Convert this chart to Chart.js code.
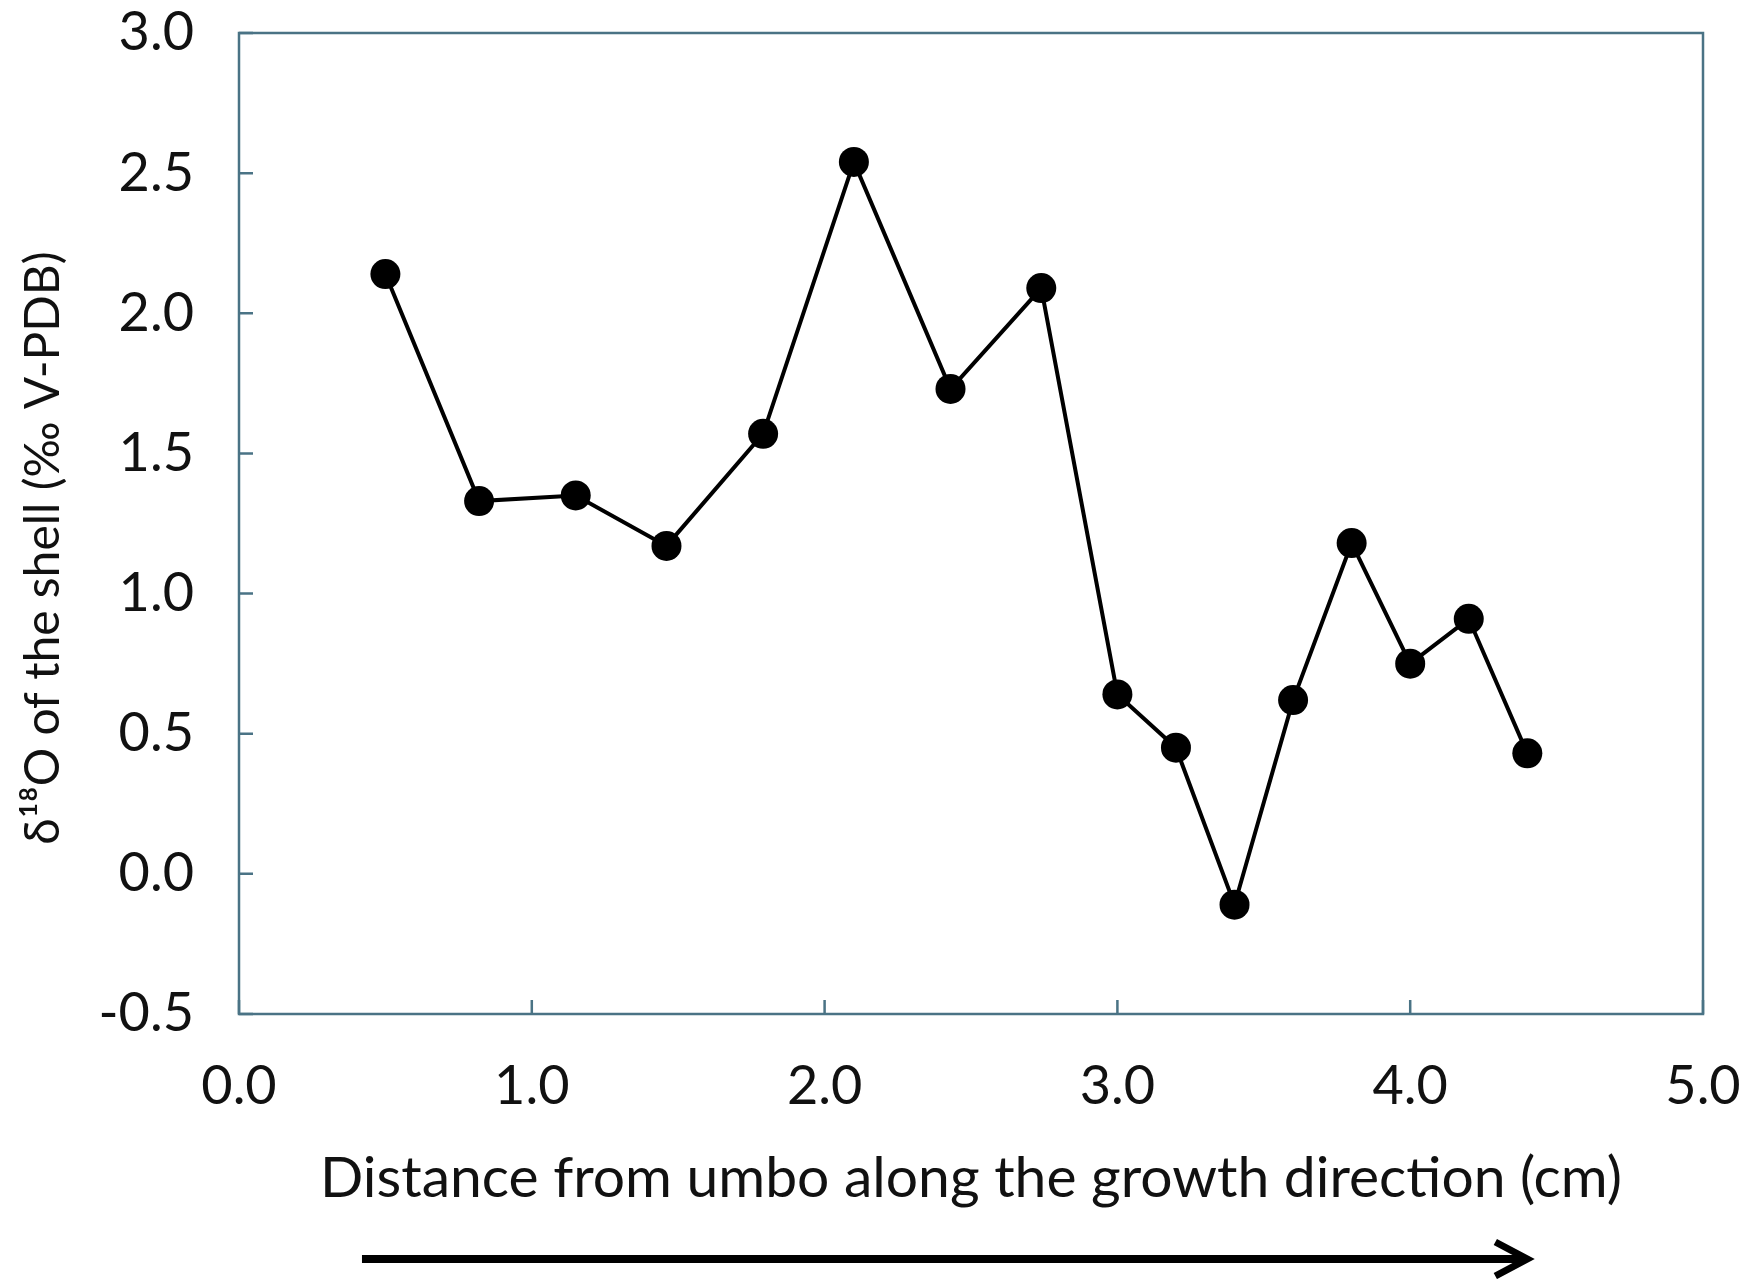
<!DOCTYPE html>
<html><head><meta charset="utf-8">
<script src="https://cdn.jsdelivr.net/npm/chart.js@4"></script>
<style>html,body{margin:0;padding:0;background:#fff}#wrap{width:1743px;height:1279px}</style>
</head><body><div id="wrap"><canvas id="c" width="1743" height="1279"></canvas></div>
<script>
const distanceCm = [0.50, 0.82, 1.15, 1.46, 1.79, 2.10, 2.43, 2.74, 3.00, 3.20, 3.40, 3.60, 3.80, 4.00, 4.20, 4.40];
const delta18O   = [2.14, 1.33, 1.35, 1.17, 1.57, 2.54, 1.73, 2.09, 0.64, 0.45, -0.11, 0.62, 1.18, 0.75, 0.91, 0.43];
const xTickValues = [0, 1, 2, 3, 4, 5];
const yTickValues = [-0.5, 0, 0.5, 1, 1.5, 2, 2.5, 3];
const xAxisTitle = 'Distance from umbo along the growth direction (cm)';
const yAxisTitle = 'δ¹⁸O of the shell (‰ V-PDB)';
const arrowRange = [0.42, 4.40];

const frameColor = '#4a7385';
const textColor = '#111111';
const fontFamily = 'Lato, "Open Sans", sans-serif';

const decor = {
  id: 'decor',
  afterDraw(chart) {
    const {ctx, chartArea: a, scales: {x, y}} = chart;
    ctx.save();
    ctx.strokeStyle = frameColor;
    ctx.lineWidth = 2.5;
    ctx.strokeRect(a.left, a.top, a.right - a.left, a.bottom - a.top);
    ctx.beginPath();
    yTickValues.forEach(v => { const py = y.getPixelForValue(v); ctx.moveTo(a.left, py); ctx.lineTo(a.left + 14, py); });
    xTickValues.forEach(v => { const px = x.getPixelForValue(v); ctx.moveTo(px, a.bottom); ctx.lineTo(px, a.bottom - 14); });
    ctx.stroke();
    // growth direction arrow
    const x0 = x.getPixelForValue(arrowRange[0]);
    const x1 = x.getPixelForValue(arrowRange[1]);
    const ya = chart.height - 20;
    ctx.strokeStyle = '#000';
    ctx.lineWidth = 8;
    ctx.beginPath(); ctx.moveTo(x0, ya); ctx.lineTo(x1 - 4, ya); ctx.stroke();
    ctx.lineWidth = 7;
    ctx.lineJoin = 'miter';
    ctx.beginPath(); ctx.moveTo(x1 - 32, ya - 17); ctx.lineTo(x1, ya); ctx.lineTo(x1 - 32, ya + 17); ctx.stroke();
    ctx.restore();
  }
};

new Chart(document.getElementById('c'), {
  type: 'line',
  data: {
    datasets: [{
      data: distanceCm.map((d, i) => ({x: d, y: delta18O[i]})),
      borderColor: '#000',
      borderWidth: 4,
      backgroundColor: '#000',
      pointBackgroundColor: '#000',
      pointBorderColor: '#000',
      pointBorderWidth: 0,
      pointRadius: 15,
      pointHoverRadius: 15,
      tension: 0,
      fill: false
    }]
  },
  options: {
    responsive: false,
    animation: false,
    devicePixelRatio: 1,
    layout: {autoPadding: false, padding: {top: 33, right: 40, left: 0, bottom: 0}},
    plugins: {legend: {display: false}, tooltip: {enabled: false}},
    scales: {
      x: {
        type: 'linear', min: 0, max: 5,
        afterBuildTicks: s => { s.ticks = xTickValues.map(v => ({value: v})); },
        afterFit: s => { s.height = 265; s.paddingLeft = 0; s.paddingRight = 0; },
        grid: {display: false, drawTicks: false},
        border: {display: false},
        ticks: {callback: v => Number(v).toFixed(1), color: textColor, font: {family: fontFamily, size: 54}, padding: 40, maxRotation: 0, autoSkip: false},
        title: {display: true, text: xAxisTitle, color: textColor, font: {family: fontFamily, size: 57}, padding: {top: 0, bottom: 66}}
      },
      y: {
        type: 'linear', min: -0.5, max: 3,
        afterBuildTicks: s => { s.ticks = yTickValues.map(v => ({value: v})); },
        afterFit: s => { s.width = 239; s.paddingTop = 0; s.paddingBottom = 0; },
        grid: {display: false, drawTicks: false},
        border: {display: false},
        ticks: {callback: v => Number(v).toFixed(1), color: textColor, font: {family: fontFamily, size: 54}, padding: 45, autoSkip: false},
        title: {display: true, text: yAxisTitle + '    ', color: textColor, font: {family: fontFamily, size: 48}, padding: {top: 15, bottom: 0}}
      }
    }
  },
  plugins: [decor]
});
</script>
</body></html>
